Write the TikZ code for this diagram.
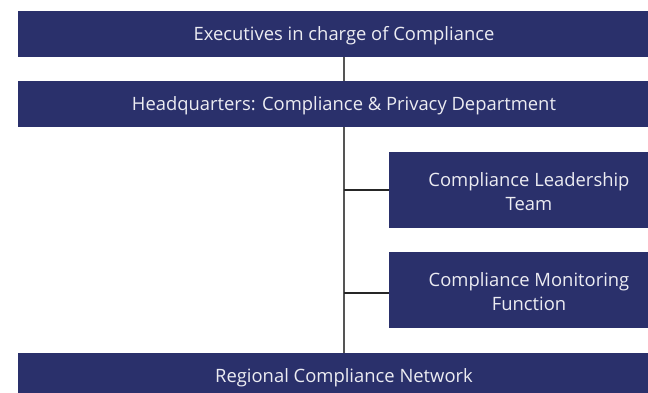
\documentclass[tikz,border=0pt]{standalone}
\usepackage{fontspec}
\setmainfont{Open Sans}
\definecolor{navy}{HTML}{2A306B}
\definecolor{txt}{HTML}{ECECF2}
\definecolor{vline}{HTML}{555555}
\begin{document}
\begin{tikzpicture}[x=1pt,y=-1pt,
  box/.style={fill=navy,draw=none},
  lbl/.style={text=txt,font=\fontsize{18.4}{24}\selectfont,align=center,inner sep=0pt},
  conn/.style={line width=1.4pt,draw=vline},
  hconn/.style={line width=1.2pt,draw=black!85}]
\useasboundingbox (0,0) rectangle (648,393);
\begin{scope}
\clip (0,0) rectangle (648,393);
\fill[box] (18,11) rectangle (670,57);
\fill[box] (18,81) rectangle (670,127);
\fill[box] (389,152) rectangle (670,228);
\fill[box] (389,252) rectangle (670,328);
\fill[box] (18,353) rectangle (670,393);
\end{scope}
\node[lbl] (exe) at (344,36) {Executives in charge of Compliance};
\node[lbl] (hq) at (344,106) {Headquarters: Compliance \& Privacy Department};
\node[lbl] (clt) at (529,192) {Compliance Leadership\\Team};
\node[lbl] (cmf) at (529,292) {Compliance Monitoring\\Function};
\node[lbl] (rcn) at (344,378) {Regional Compliance Network};
\coordinate (e1) at (344,57);
\coordinate (h0) at (344,81);
\coordinate (h1) at (344,127);
\coordinate (r0) at (344,353);
\coordinate (j1) at (344,190);
\coordinate (j2) at (344,293);
\coordinate (b1) at (389,190);
\coordinate (b2) at (389,293);
\draw[conn] (e1) -- (h0);
\draw[conn] (h1) -- (r0);
\draw[hconn] (j1) -- (b1);
\draw[hconn] (j2) -- (b2);
\end{tikzpicture}
\end{document}
